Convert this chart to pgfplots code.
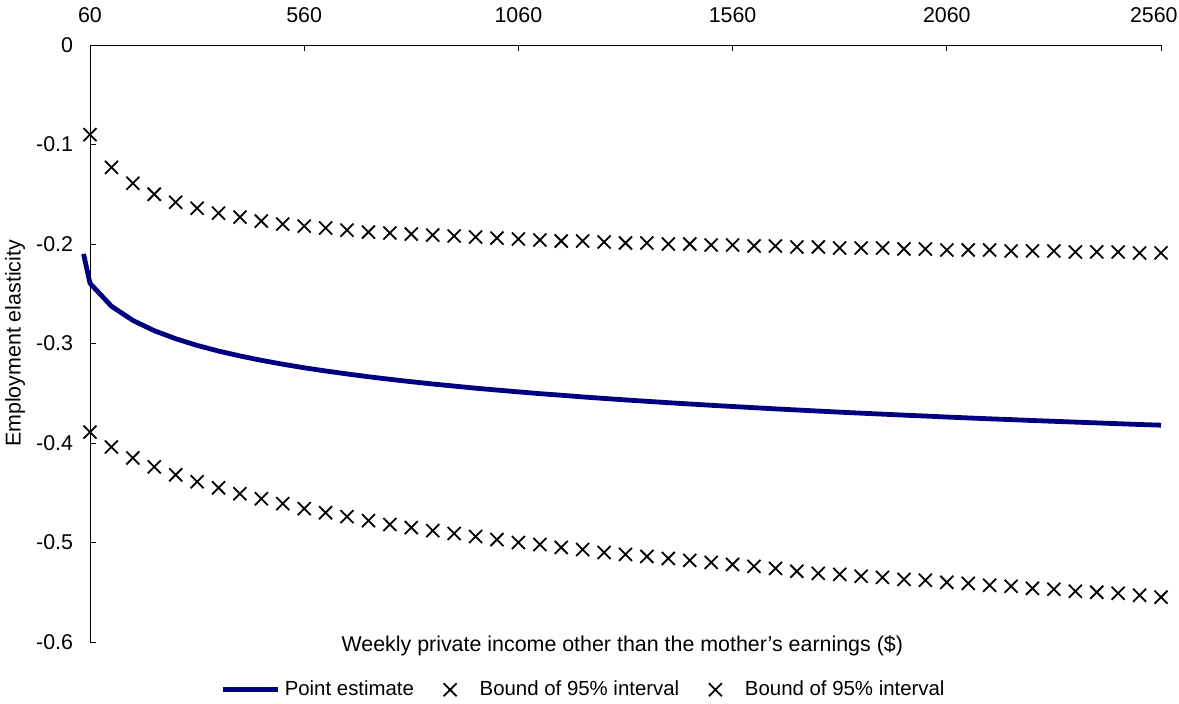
\documentclass[border=0pt]{standalone}
\usepackage{fontspec}
\setmainfont{Liberation Sans}
\usepackage{pgfplots}
\usepackage{pgfplotstable}
\pgfplotsset{compat=1.18}
\definecolor{navy}{RGB}{0,0,128}
\newcommand{\axfont}{\fontsize{10.7bp}{12.8bp}\selectfont}
\newcommand{\legfont}{\fontsize{10.2bp}{12.2bp}\selectfont}
\pgfplotsset{
  leglinestyle/.style={legend image code/.code={\draw[##1] (0bp,0bp) -- (27.5bp,0bp);}},
  legmarkstyle/.style={legend image code/.code={\path (-15.85bp,0bp) (12.6bp,0bp); \draw[##1] plot coordinates {(0bp,0bp)};}},
}

\pgfplotstableread{
x P
45 -0.2100
60 -0.2395
110 -0.2625
160 -0.2768
210 -0.2871
260 -0.2952
310 -0.3019
360 -0.3076
410 -0.3125
460 -0.3169
510 -0.3208
560 -0.3244
610 -0.3276
660 -0.3306
710 -0.3334
760 -0.3360
810 -0.3384
860 -0.3407
910 -0.3428
960 -0.3449
1010 -0.3468
1060 -0.3486
1110 -0.3504
1160 -0.3520
1210 -0.3537
1260 -0.3552
1310 -0.3567
1360 -0.3581
1410 -0.3595
1460 -0.3608
1510 -0.3621
1560 -0.3633
1610 -0.3645
1660 -0.3657
1710 -0.3668
1760 -0.3679
1810 -0.3690
1860 -0.3700
1910 -0.3710
1960 -0.3720
2010 -0.3729
2060 -0.3739
2110 -0.3748
2160 -0.3757
2210 -0.3765
2260 -0.3774
2310 -0.3782
2360 -0.3790
2410 -0.3798
2460 -0.3806
2510 -0.3814
2560 -0.3821
}\pointdata

\pgfplotstableread{
x U L
60 -0.090 -0.389
110 -0.123 -0.404
160 -0.139 -0.415
210 -0.150 -0.424
260 -0.158 -0.432
310 -0.164 -0.439
360 -0.169 -0.445
410 -0.173 -0.451
460 -0.177 -0.456
510 -0.180 -0.461
560 -0.182 -0.466
610 -0.184 -0.470
660 -0.186 -0.474
710 -0.188 -0.478
760 -0.189 -0.482
810 -0.190 -0.485
860 -0.191 -0.488
910 -0.192 -0.491
960 -0.193 -0.494
1010 -0.194 -0.497
1060 -0.195 -0.500
1110 -0.196 -0.502
1160 -0.197 -0.505
1210 -0.197 -0.507
1260 -0.198 -0.510
1310 -0.199 -0.512
1360 -0.199 -0.514
1410 -0.200 -0.516
1460 -0.200 -0.518
1510 -0.201 -0.520
1560 -0.201 -0.522
1610 -0.202 -0.524
1660 -0.202 -0.526
1710 -0.203 -0.529
1760 -0.203 -0.531
1810 -0.204 -0.532
1860 -0.204 -0.534
1910 -0.204 -0.535
1960 -0.205 -0.537
2010 -0.205 -0.538
2060 -0.206 -0.540
2110 -0.206 -0.541
2160 -0.206 -0.543
2210 -0.207 -0.544
2260 -0.207 -0.546
2310 -0.207 -0.547
2360 -0.208 -0.549
2410 -0.208 -0.550
2460 -0.208 -0.551
2510 -0.209 -0.553
2560 -0.209 -0.555
}\bounddata

\begin{document}
\axfont
\begin{tikzpicture}
\useasboundingbox (-45bp,-31bp) rectangle (544.5bp,321bp);
\begin{axis}[
  at={(0,0)}, anchor=south west,
  scale only axis, width=535.5bp, height=298.5bp,
  xmin=60, xmax=2560, ymin=-0.6, ymax=0,
  axis x line*=top, axis y line*=left,
  axis line style={line width=0.5bp, black, -},
  xtick={60,560,1060,1560,2060,2560},
  xticklabels={60,560,1060,1560,2060,{\hbox to 0pt{\hss 2560\hskip -8.3bp}}},
  ytick={-0.6,-0.5,-0.4,-0.3,-0.2,-0.1,0},
  yticklabels={-0.6,-0.5,-0.4,-0.3,-0.2,-0.1,0},
  tick align=inside, major tick length=3bp,
  tick style={line width=0.5bp, black},
  xticklabel style={inner sep=0pt, anchor=center, yshift=15bp, font=\axfont},
  yticklabel style={inner sep=0pt, anchor=east, xshift=-8.3bp, font=\axfont},
  clip=false,
  xlabel={Weekly private income other than the mother\char39 s earnings (\$)},
  xlabel style={at={(rel axis cs:0.497,-0.0067)}, anchor=center, inner sep=0pt, font=\axfont},
  ylabel={Employment elasticity},
  ylabel style={at={(rel axis cs:-0.070,0.5)}, anchor=center, inner sep=0pt, font=\axfont},
  legend columns=-1,
  legend style={draw=none, fill=none, inner sep=0pt, outer sep=0pt,
    at={(rel axis cs:0.1223,-0.080)}, anchor=west,
    font=\legfont,
    /tikz/every odd column/.append style={column sep=0pt},
    /tikz/every even column/.append style={column sep=0pt}},
]
\addplot[navy, line width=2.4bp, line join=round, no marks, leglinestyle]
  table[x=x, y=P] {\pointdata};
\addlegendentry{Point estimate}
\addplot[only marks, mark=x, mark size=4.6bp, black, mark options={line width=0.9bp}, legmarkstyle]
  table[x=x, y=U] {\bounddata};
\addlegendentry{Bound of 95\% interval}
\addplot[only marks, mark=x, mark size=4.6bp, black, mark options={line width=0.9bp}, legmarkstyle]
  table[x=x, y=L] {\bounddata};
\addlegendentry{Bound of 95\% interval}
\end{axis}
\end{tikzpicture}
\end{document}
